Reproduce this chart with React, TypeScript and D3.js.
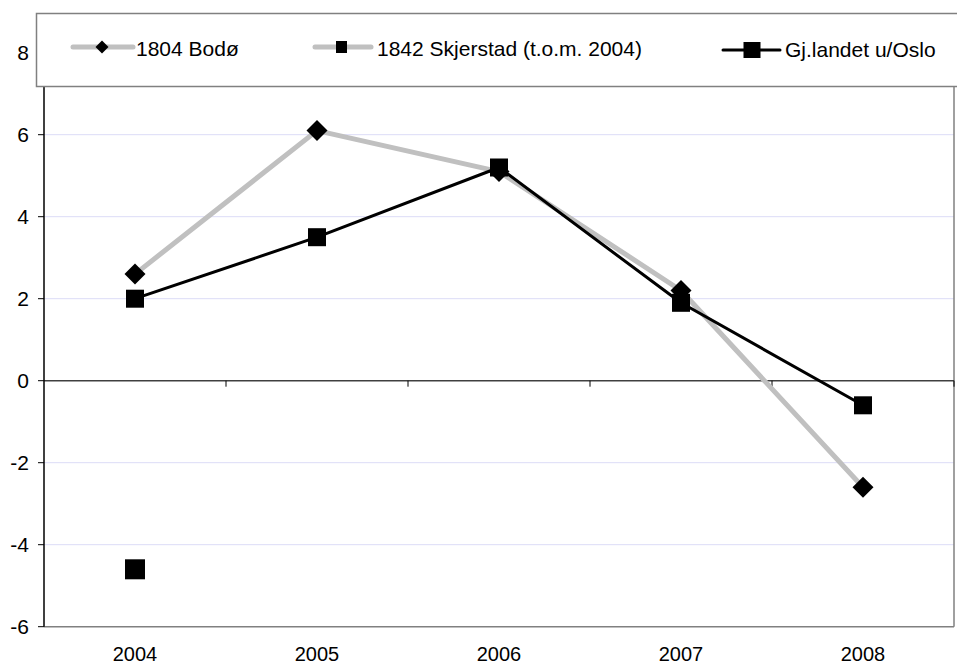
import React from "react";
import * as d3 from "d3";

const years = ["2004", "2005", "2006", "2007", "2008"];
const bodo = [2.6, 6.1, 5.1, 2.2, -2.6];
const skjerstad: (number | null)[] = [-4.6, null, null, null, null];
const landet = [2.0, 3.5, 5.2, 1.9, -0.6];
const yTicks = [-6, -4, -2, 0, 2, 4, 6, 8];
const seriesNames = ["1804 Bodø", "1842 Skjerstad (t.o.m. 2004)", "Gj.landet u/Oslo"];

const W = 957;
const H = 666;
const FONT = "'Liberation Sans', Arial, sans-serif";
const FS = 21;

export default function App() {
  const x = d3.scaleBand<string>().domain(years).range([44, 954]);
  const cx = (d: string) => (x(d) as number) + x.bandwidth() / 2;
  const y = d3.scaleLinear().domain([-6, 8]).range([626.7, 52.7]);

  const line = d3
    .line<number>()
    .x((_, i) => cx(years[i]))
    .y((v) => y(v));

  const diamond = (px: number, py: number, r: number) =>
    `M${px},${py - r}L${px + r},${py}L${px},${py + r}L${px - r},${py}Z`;

  const grid = yTicks.filter((t) => t !== 0 && t !== -6);
  const boundaries = years.map((yr) => (x(yr) as number) + x.bandwidth());

  return (
    <svg
      width={W}
      height={H}
      style={{ position: "absolute", left: 0, top: 0, background: "#fff" }}
      fontFamily={FONT}
    >
      <rect x={0} y={0} width={W} height={H} fill="#fff" />
      {grid.map((t) => (
        <line key={t} x1={44} x2={954} y1={y(t)} y2={y(t)} stroke="#DCDCF7" strokeWidth={1} />
      ))}
      <line x1={954} x2={954} y1={y(8)} y2={y(-6)} stroke="#808080" strokeWidth={1.5} />
      <line x1={44} x2={954} y1={y(-6)} y2={y(-6)} stroke="#808080" strokeWidth={1.5} />
      <line x1={44} x2={954} y1={y(0)} y2={y(0)} stroke="#404040" strokeWidth={1.5} />
      {boundaries.map((b, i) => (
        <line key={i} x1={b} x2={b} y1={y(0)} y2={y(0) + 6} stroke="#000" strokeWidth={1} />
      ))}
      <line x1={44} x2={44} y1={y(8)} y2={y(-6)} stroke="#000" strokeWidth={1.5} />
      {yTicks.map((t) => (
        <g key={t}>
          <line x1={38} x2={44} y1={y(t)} y2={y(t)} stroke="#000" strokeWidth={1} />
          <text x={29} y={y(t) + 7.5} textAnchor="end" fontSize={FS} fill="#000">
            {t}
          </text>
        </g>
      ))}
      {years.map((yr) => (
        <text key={yr} x={cx(yr)} y={661} textAnchor="middle" fontSize={20} fill="#000">
          {yr}
        </text>
      ))}
      <path d={line(bodo) || ""} fill="none" stroke="#C0C0C0" strokeWidth={5} strokeLinejoin="round" />
      {bodo.map((v, i) => (
        <path key={i} d={diamond(cx(years[i]), y(v), 10.5)} fill="#000" />
      ))}
      {skjerstad.map((v, i) =>
        v === null ? null : (
          <rect key={i} x={cx(years[i]) - 10} y={y(v) - 10} width={20} height={20} fill="#000" />
        )
      )}
      <path d={line(landet) || ""} fill="none" stroke="#000" strokeWidth={3} strokeLinejoin="round" />
      {landet.map((v, i) => (
        <rect key={i} x={cx(years[i]) - 9} y={y(v) - 9} width={18} height={18} fill="#000" />
      ))}
      <rect x={36.5} y={13.5} width={930} height={73} fill="#fff" stroke="#808080" strokeWidth={1.5} />
      <g>
        <line x1={73} x2={133} y1={47} y2={47} stroke="#C0C0C0" strokeWidth={5} strokeLinecap="round" />
        <path d={diamond(102, 47, 6.5)} fill="#000" />
        <text x={136} y={56} fontSize={FS} fill="#000">{seriesNames[0]}</text>
      </g>
      <g>
        <line x1={315} x2={371} y1={47} y2={47} stroke="#C0C0C0" strokeWidth={5} strokeLinecap="round" />
        <rect x={336} y={41} width={11} height={12} fill="#000" />
        <text x={377} y={56} fontSize={FS} fill="#000">{seriesNames[1]}</text>
      </g>
      <g>
        <line x1={723} x2={780} y1={50} y2={50} stroke="#000" strokeWidth={3} strokeLinecap="round" />
        <rect x={743.5} y={42} width={17} height={16} fill="#000" />
        <text x={785} y={57} fontSize={FS} fill="#000">{seriesNames[2]}</text>
      </g>
    </svg>
  );
}
